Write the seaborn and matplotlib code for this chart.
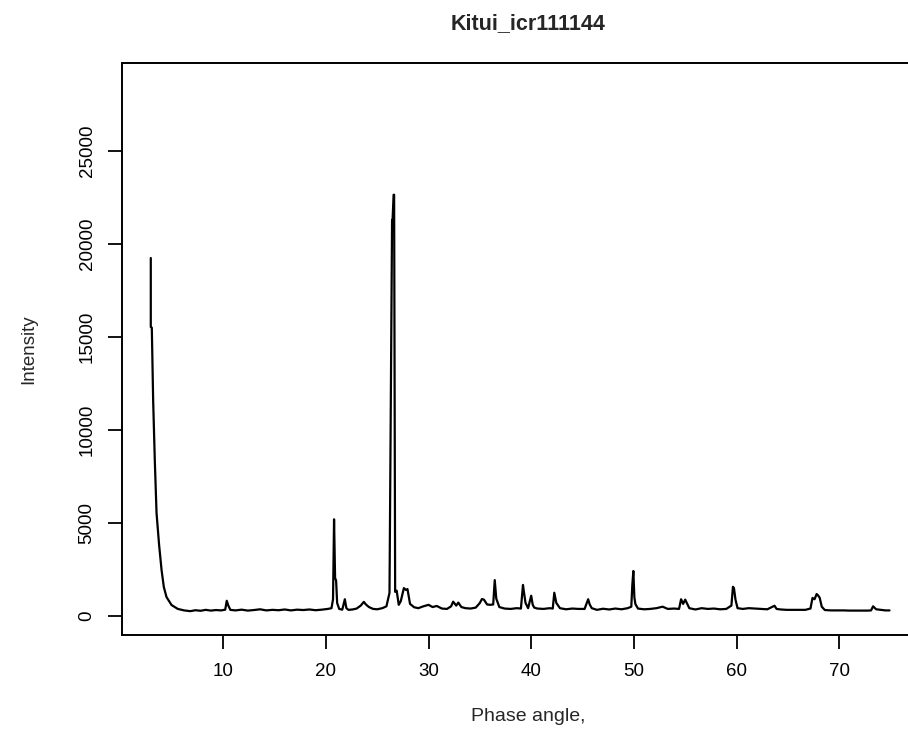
import matplotlib
matplotlib.use('Agg')
import matplotlib.pyplot as plt
import seaborn as sns
import pandas as pd

# values (phase angle vs intensity)
angle = [2.95, 2.95, 3.05, 3.18, 3.34, 3.51, 3.76, 4.0, 4.22, 4.48, 4.97, 5.58,
         6.2, 6.8, 7.3, 7.8, 8.3, 8.8, 9.3, 9.8, 10.2, 10.35, 10.5, 10.7,
         11.2, 11.8, 12.4, 13.0, 13.6, 14.2, 14.8, 15.4, 16.0, 16.6, 17.2, 17.8,
         18.4, 19.0, 19.6, 20.2, 20.55, 20.7, 20.8, 20.9, 21.0, 21.1, 21.3, 21.6,
         21.85, 22.0, 22.2, 22.6, 23.0, 23.4, 23.7, 23.9, 24.2, 24.6, 25.0, 25.5,
         25.9, 26.2, 26.45, 26.5, 26.6, 26.65, 26.75, 26.9, 27.1, 27.3, 27.6, 27.8,
         27.95, 28.2, 28.6, 29.0, 29.5, 30.0, 30.4, 30.8, 31.3, 31.8, 32.2, 32.4,
         32.7, 32.9, 33.2, 33.6, 34.1, 34.6, 35.0, 35.2, 35.4, 35.7, 36.0, 36.3,
         36.45, 36.6, 36.9, 37.4, 38.0, 38.6, 39.0, 39.2, 39.3, 39.45, 39.7, 40.0,
         40.15, 40.3, 40.6, 41.2, 41.8, 42.1, 42.25, 42.45, 42.8, 43.4, 44.0, 44.6,
         45.2, 45.55, 45.7, 45.9, 46.4, 47.0, 47.6, 48.2, 48.8, 49.4, 49.75, 49.85,
         49.95, 50.05, 50.15, 50.4, 51.0, 51.6, 52.2, 52.8, 53.3, 53.9, 54.4, 54.6,
         54.8, 55.0, 55.4, 56.0, 56.6, 57.2, 57.8, 58.4, 59.0, 59.5, 59.65, 59.75,
         59.9, 60.1, 60.6, 61.2, 61.8, 62.4, 63.0, 63.7, 63.9, 64.3, 64.9, 65.5,
         66.1, 66.7, 67.2, 67.4, 67.6, 67.8, 67.95, 68.1, 68.3, 68.6, 69.2, 69.8,
         70.4, 71.0, 71.6, 72.2, 72.8, 73.1, 73.3, 73.6, 74.1, 74.5, 74.9]
intensity = [19250, 15540, 15500, 11610, 8390, 5540, 3820, 2470, 1560, 1020, 590, 380,
             300, 260, 310, 280, 330, 290, 320, 300, 340, 820, 560, 330,
             300, 340, 290, 320, 360, 300, 330, 310, 350, 300, 340, 320,
             350, 310, 340, 380, 420, 900, 5200, 2050, 1900, 700, 380, 340,
             900, 420, 330, 350, 400, 560, 760, 620, 480, 380, 360, 420,
             520, 1240, 21300, 21300, 22650, 22650, 1300, 1360, 600, 800, 1500, 1400,
             1450, 650, 470, 420, 520, 600, 480, 540, 400, 380, 520, 770,
             560, 720, 480, 420, 400, 450, 700, 910, 880, 620, 600, 620,
             1930, 930, 480, 400, 380, 420, 400, 1670, 1260, 700, 420, 1090,
             600, 450, 400, 380, 420, 400, 1250, 700, 420, 360, 400, 380,
             380, 900, 620, 420, 330, 390, 350, 400, 360, 420, 500, 1670,
             2420, 1000, 640, 400, 360, 380, 420, 500, 380, 400, 380, 900,
             650, 880, 420, 350, 420, 380, 400, 360, 380, 560, 1570, 1500,
             870, 420, 380, 420, 400, 380, 360, 550, 380, 350, 330, 330,
             330, 330, 400, 970, 900, 1180, 1100, 980, 500, 320, 300, 300,
             300, 290, 290, 290, 290, 300, 520, 360, 330, 300, 300]

df = pd.DataFrame({'angle': angle, 'intensity': intensity})

sns.set_theme(style='white')
plt.rcParams['font.family'] = ['Liberation Sans', 'DejaVu Sans']

fig = plt.figure(figsize=(9.08, 7.29), dpi=100)
# plot box runs past the right edge, as in the reference
ax = fig.add_axes([0.1344, 0.129, 0.895, 0.785])
sns.lineplot(data=df, x='angle', y='intensity', ax=ax, color='black',
             linewidth=1.6, sort=False, estimator=None)

ax.set_xlim(0.15, 79.3)
ax.set_ylim(-1020, 29750)
ax.set_xticks([10, 20, 30, 40, 50, 60, 70])
ax.set_yticks([0, 5000, 10000, 15000, 20000, 25000])
ax.set_yticklabels(['0', '5000', '10000', '15000', '20000', '25000'],
                   rotation=90, va='center')
ax.tick_params(axis='both', direction='out', length=10, width=1.3,
               color='black', labelsize=13.5, labelcolor='black', pad=9,
               bottom=True, left=True)
ax.tick_params(axis='x', pad=10)
for s in ax.spines.values():
    s.set_visible(True)
    s.set_color('black')
    s.set_linewidth(1.4)

ax.set_xlabel('Phase angle,', fontsize=14, labelpad=20)
ax.set_ylabel('Intensity', fontsize=13.5, labelpad=30)
ax.set_title('Kitui_icr111144', fontsize=15.5, fontweight='bold', pad=24)

fig.savefig('out.png', dpi=100)
